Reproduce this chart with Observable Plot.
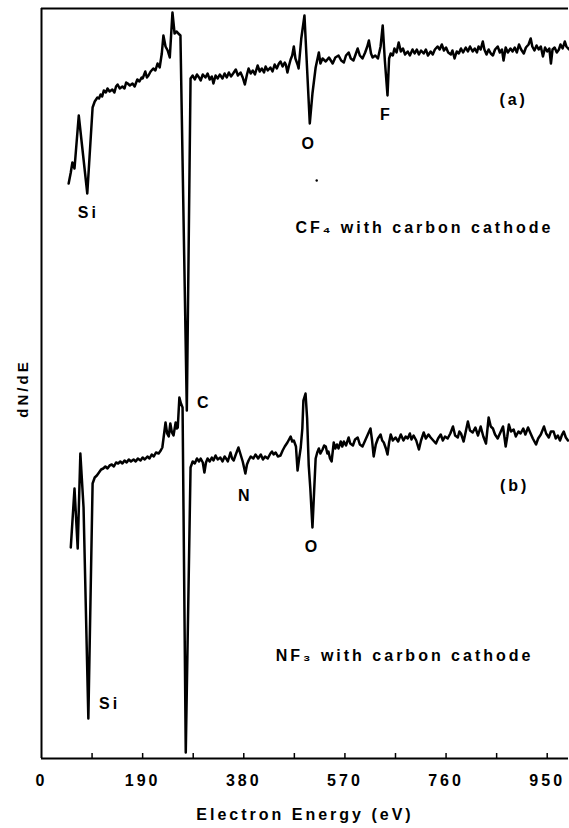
<!DOCTYPE html>
<html>
<head>
<meta charset="utf-8">
<script src="https://cdn.jsdelivr.net/npm/d3@7"></script>
<script src="https://cdn.jsdelivr.net/npm/@observablehq/plot@0.6"></script>
<style>
  html, body { margin: 0; padding: 0; background: #fff; }
</style>
</head>
<body>
<div id="chart"></div>
<script>
// Trace (a): CF4 with carbon cathode — [electron energy (eV), dN/dE (arb. units)]
const traceA = [
  [51,575],[55,586],[58,596],[62,590],[70,643],[86,565],[96,651],[100,657],[105,661],[108,660],
  [111,664],[114,662],[117,668],[121,666],[124,670],[128,667],[133,669],[137,666],[140,672],[143,674],
  [147,670],[152,672],[156,670],[159,676],[162,675],[166,673],[171,675],[175,672],[180,679],[184,677],
  [188,681],[190,680],[195,687],[198,681],[201,683],[205,687],[210,690],[214,688],[218,695],[222,691],
  [226,705],[229,723],[233,712],[237,708],[241,701],[246,746],[250,725],[254,727],[257,725],[261,723],
  [273,348],[280,680],[284,683],[288,679],[292,684],[296,681],[299,678],[303,684],[308,681],[312,685],
  [316,679],[320,682],[323,675],[327,683],[331,680],[335,684],[340,680],[344,685],[348,681],[352,686],
  [356,682],[360,685],[365,689],[369,683],[374,686],[378,681],[382,674],[386,684],[389,690],[393,685],
  [397,688],[401,684],[406,693],[410,687],[414,690],[418,686],[421,692],[425,688],[430,691],[434,687],
  [438,694],[442,690],[446,695],[449,697],[453,692],[457,696],[459,694],[462,686],[465,693],[468,699],
  [471,703],[474,712],[477,700],[481,694],[483,690],[488,720],[494,743],[504,635],[509,665],[515,691],
  [521,706],[524,695],[528,700],[534,697],[540,701],[547,695],[552,701],[558,703],[563,698],[568,696],
  [572,703],[577,706],[581,700],[586,698],[590,704],[594,710],[598,703],[603,700],[608,706],[612,712],
  [615,718],[619,705],[622,701],[627,703],[632,700],[637,712],[641,733],[645,698],[650,663],[653,700],
  [656,705],[660,703],[663,710],[667,706],[671,716],[675,707],[679,710],[683,704],[688,707],[692,703],
  [697,709],[701,705],[705,709],[709,704],[713,708],[718,705],[722,709],[726,703],[731,707],[735,704],
  [739,709],[744,712],[748,709],[752,714],[756,708],[760,711],[764,706],[769,704],[772,708],[776,700],
  [780,707],[784,705],[788,710],[792,706],[797,711],[801,707],[805,712],[810,707],[814,710],[818,706],
  [821,712],[825,709],[829,717],[832,709],[836,704],[840,709],[844,705],[848,703],[852,709],[857,712],
  [861,706],[865,709],[868,698],[872,711],[876,706],[881,710],[885,707],[889,711],[893,706],[897,714],
  [901,709],[906,705],[910,711],[915,714],[919,720],[922,712],[926,708],[930,713],[934,709],[938,712],
  [942,702],[946,711],[950,707],[954,710],[957,695],[960,709],[964,711],[968,706],[972,709],[975,714],
  [979,710],[983,717],[986,712],[991,709]
];

// Trace (b): NF3 with carbon cathode — [electron energy (eV), dN/dE (arb. units)]
const traceB = [
  [55,211],[62,270],[68,210],[73,305],[79,251],[88,40],[96,275],[100,281],[104,283],[108,286],
  [112,289],[116,290],[120,292],[124,290],[128,293],[132,294],[136,292],[140,296],[144,295],[148,297],
  [152,295],[156,298],[160,296],[164,299],[168,297],[173,299],[177,297],[181,300],[186,298],[190,301],
  [194,299],[199,302],[203,300],[207,304],[211,302],[215,306],[220,305],[224,308],[227,311],[233,336],
  [236,325],[239,322],[242,335],[245,326],[248,323],[252,336],[254,330],[256,331],[259,361],[262,355],
  [265,351],[271,6],[280,291],[284,297],[288,295],[292,300],[296,297],[299,300],[303,296],[306,286],
  [309,296],[312,300],[316,297],[320,301],[323,298],[327,303],[331,299],[336,301],[340,297],[344,302],
  [348,299],[350,297],[355,306],[358,300],[361,298],[365,304],[370,311],[374,304],[378,297],[383,285],
  [386,294],[389,298],[393,302],[398,300],[402,304],[407,300],[412,304],[416,299],[420,302],[425,300],
  [430,305],[433,307],[436,304],[440,306],[444,302],[449,303],[453,308],[457,312],[462,316],[465,319],
  [468,322],[471,317],[474,318],[478,312],[481,288],[484,300],[487,311],[490,330],[492,358],[496,365],
  [499,340],[502,293],[505,270],[509,231],[515,300],[518,306],[521,310],[524,305],[528,309],[531,313],
  [534,312],[537,305],[539,307],[542,300],[545,297],[549,316],[552,310],[555,314],[558,310],[562,317],
  [565,312],[568,317],[572,313],[577,321],[580,315],[585,313],[589,319],[594,321],[598,314],[603,312],
  [608,318],[613,324],[618,330],[621,318],[624,302],[628,314],[632,320],[637,324],[640,318],[643,316],
  [647,310],[650,304],[653,316],[656,324],[660,318],[665,321],[670,317],[675,324],[680,318],[684,322],
  [688,320],[692,325],[695,319],[699,323],[704,318],[709,309],[713,318],[718,326],[722,320],[727,324],
  [731,321],[736,318],[741,315],[745,320],[750,324],[754,318],[758,322],[763,320],[768,325],[773,332],
  [777,323],[782,321],[785,327],[788,325],[793,317],[797,327],[801,337],[805,328],[810,326],[815,331],
  [820,323],[825,332],[830,322],[835,315],[840,341],[844,332],[848,330],[852,324],[857,320],[862,326],
  [867,332],[872,312],[875,322],[878,334],[882,327],[887,329],[891,322],[896,327],[900,325],[905,330],
  [909,324],[914,331],[918,326],[923,320],[929,314],[933,320],[938,324],[941,328],[944,332],[948,325],
  [953,321],[957,327],[962,327],[966,320],[970,323],[974,318],[978,324],[981,327],[985,321],[989,318]
];

// Axis ticks (eV)
const tickLabels = [0, 190, 380, 570, 760, 950];
const tickMarks = [95, 190, 285, 380, 475, 570, 665, 760, 855, 950];

// Peak labels
const labelText = ["Si", "O", "F", "(a)", "C", "N", "O", "(b)", "Si"];
const labelEnergy = [88, 503, 648, 887, 306, 383, 509, 889, 128];
const labelSignal = [546, 615, 644, 659, 356, 263, 212, 273, 55];

// Captions
const captionText = ["CF\u2084 with carbon cathode", "NF\u2083 with carbon cathode"];
const captionEnergy = [477, 440];
const captionSignal = [531, 103];

// Stray speck on the original
const speckEnergy = [517];
const speckSignal = [578];

const font = "'Liberation Sans', Arial, Helvetica, sans-serif";

const chart = Plot.plot({
  width: 569,
  height: 828,
  marginLeft: 41,
  marginRight: 1,
  marginTop: 8,
  marginBottom: 70,
  x: { domain: [0, 990], axis: null },
  y: { domain: [0, 750], axis: null },
  style: {
    fontFamily: font,
    fontWeight: "bold",
    fontSize: "16px",
    letterSpacing: "3px",
    color: "#000",
    background: "#fff"
  },
  marks: [
    Plot.ruleX([0], { stroke: "#000", strokeWidth: 2 }),
    Plot.ruleY([0], { stroke: "#000", strokeWidth: 2 }),
    Plot.ruleY([750], { stroke: "#000", strokeWidth: 2 }),
    Plot.ruleX(tickMarks, { x: d => d, y1: 0, y2: 5, stroke: "#000", strokeWidth: 1.5 }),
    Plot.axisX({ ticks: tickLabels, tickSize: 0, tickPadding: 16, tickFormat: d => String(d), fontSize: 16, fontWeight: "bold" }),
    Plot.text(["Electron Energy (eV)"], { frameAnchor: "bottom", lineAnchor: "middle", textAnchor: "middle", dy: 56, fontSize: 16, fontWeight: "bold" }),
    Plot.text(["dN/dE"], { frameAnchor: "left", lineAnchor: "middle", textAnchor: "middle", rotate: -90, dx: -18, dy: 5, fontSize: 15, fontWeight: "bold" }),
    Plot.line(traceA, { x: d => d[0], y: d => d[1], stroke: "#000", strokeWidth: 2.5, strokeLinejoin: "round" }),
    Plot.line(traceB, { x: d => d[0], y: d => d[1], stroke: "#000", strokeWidth: 2.5, strokeLinejoin: "round" }),
    Plot.text(labelText, { x: labelEnergy, y: labelSignal, text: labelText, textAnchor: "middle", lineAnchor: "middle", fontSize: 16, fontWeight: "bold", fill: "#000" }),
    Plot.text(captionText, { x: captionEnergy, y: captionSignal, text: captionText, textAnchor: "start", lineAnchor: "middle", fontSize: 16, fontWeight: "bold", fill: "#000" }),
    Plot.dot(speckEnergy, { x: speckEnergy, y: speckSignal, r: 1.2, fill: "#000", stroke: null })
  ]
});

document.getElementById("chart").appendChild(chart);
</script>
</body>
</html>
